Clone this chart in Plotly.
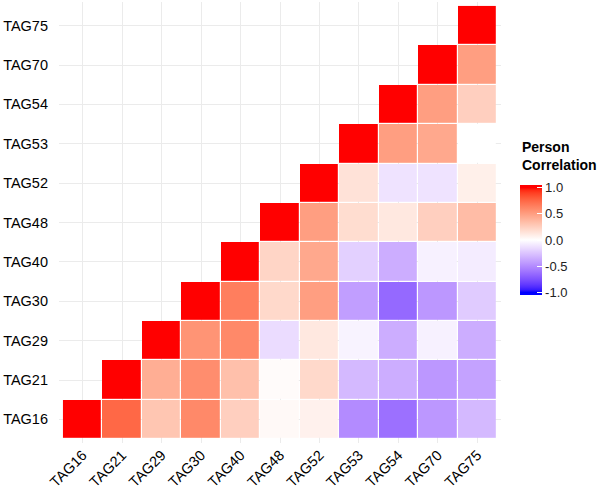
import plotly.graph_objects as go

tags = ["TAG16", "TAG21", "TAG29", "TAG30", "TAG40", "TAG48", "TAG52", "TAG53", "TAG54", "TAG70", "TAG75"]

# each row: correlation of the row tag with column tags (None = hidden lower triangle)
row_TAG16 = [1.0, 0.75, 0.30, 0.60, 0.25, 0.03, 0.07, -0.50, -0.62, -0.45, -0.30]
row_TAG21 = [None, 1.0, 0.42, 0.58, 0.33, 0.02, 0.20, -0.30, -0.35, -0.45, -0.40]
row_TAG29 = [None, None, 1.0, 0.55, 0.60, -0.15, 0.12, -0.05, -0.35, -0.06, -0.35]
row_TAG30 = [None, None, None, 1.0, 0.65, 0.20, 0.50, -0.42, -0.65, -0.45, -0.22]
row_TAG40 = [None, None, None, None, 1.0, 0.22, 0.45, -0.20, -0.35, -0.06, -0.08]
row_TAG48 = [None, None, None, None, None, 1.0, 0.50, 0.18, 0.12, 0.25, 0.35]
row_TAG52 = [None, None, None, None, None, None, 1.0, 0.15, -0.12, -0.12, 0.08]
row_TAG53 = [None, None, None, None, None, None, None, 1.0, 0.50, 0.45, 0.0]
row_TAG54 = [None, None, None, None, None, None, None, None, 1.0, 0.50, 0.25]
row_TAG70 = [None, None, None, None, None, None, None, None, None, 1.0, 0.50]
row_TAG75 = [None, None, None, None, None, None, None, None, None, None, 1.0]

z = [row_TAG16, row_TAG21, row_TAG29, row_TAG30, row_TAG40, row_TAG48,
     row_TAG52, row_TAG53, row_TAG54, row_TAG70, row_TAG75]

legend_ticks = [-1.0, -0.5, 0.0, 0.5, 1.0]
legend_title = "Person<br>Correlation"

ZMIN, ZMAX = -1.05, 1.05  # bar extends slightly past the -1..1 ticks


# --- diverging colour scale interpolated in CIE Lab (like ggplot's gradient2)
def lab_to_rgb(L, a, b):
    fy = (L + 16) / 116
    fx = fy + a / 500
    fz = fy - b / 200

    def finv(t):
        return t ** 3 if t ** 3 > 0.008856 else (t - 16 / 116) / 7.787

    X = 0.95047 * finv(fx)
    Y = 1.0 * finv(fy)
    Z = 1.08883 * finv(fz)
    r = 3.2406 * X - 1.5372 * Y - 0.4986 * Z
    g = -0.9689 * X + 1.8758 * Y + 0.0415 * Z
    bb = 0.0557 * X - 0.2040 * Y + 1.0570 * Z

    def gam(c):
        c = max(0.0, min(1.0, c))
        return 1.055 * c ** (1 / 2.4) - 0.055 if c > 0.0031308 else 12.92 * c

    return "rgb(%d,%d,%d)" % tuple(round(255 * gam(c)) for c in (r, g, bb))


white = (100.0, 0.0, 0.0)
red = (53.24, 80.09, 67.20)
blue = (32.30, 79.19, -107.86)
colorscale = []
n = 42
for i in range(n + 1):
    t = i / n
    v = ZMIN + (ZMAX - ZMIN) * t
    v = max(-1.0, min(1.0, v))
    if v < 0:
        s = -v
        lab = tuple(white[k] + (blue[k] - white[k]) * s for k in range(3))
    else:
        s = v
        lab = tuple(white[k] + (red[k] - white[k]) * s for k in range(3))
    colorscale.append([t, lab_to_rgb(*lab)])

FONT = "Liberation Sans, Arial, sans-serif"

fig = go.Figure(
    go.Heatmap(
        z=z, x=tags, y=tags,
        zmin=ZMIN, zmax=ZMAX,
        colorscale=colorscale,
        xgap=1.2, ygap=1.2,
        hoverongaps=False,
        colorbar=dict(
            tickvals=legend_ticks,
            ticktext=["%.1f" % v for v in legend_ticks],
            ticks="inside", ticklen=5, tickcolor="white", tickwidth=1,
            tickfont=dict(size=13, color="#222222", family=FONT),
            thickness=22, lenmode="pixels", len=110,
            xanchor="left", x=(520 - 59) / 442, xpad=0,
            yanchor="middle", y=(443 - 240) / 441, ypad=0,
            outlinewidth=0,
        ),
    )
)

fig.add_annotation(
    text="<b>" + legend_title + "</b>", xref="paper", yref="paper",
    x=(520 - 59) / 442, y=(443 - 137) / 441, xanchor="left", yanchor="top",
    align="left", showarrow=False,
    font=dict(size=14, color="#000000", family=FONT),
)

fig.update_layout(
    width=598, height=493,
    margin=dict(l=59, r=97, t=2, b=50),
    paper_bgcolor="white", plot_bgcolor="white",
    font=dict(family=FONT, size=14, color="#000000"),
    xaxis=dict(type="category", range=[-0.6, 10.6], showgrid=True, gridcolor="#EBEBEB",
               gridwidth=1, zeroline=False, tickangle=-45, ticks="", automargin=False,
               tickfont=dict(size=14.5, color="#000000"), fixedrange=True),
    yaxis=dict(type="category", range=[-0.6, 10.6], showgrid=True, gridcolor="#EBEBEB",
               gridwidth=1, zeroline=False, ticks="", automargin=False,
               ticklabelstandoff=10,
               tickfont=dict(size=14.5, color="#000000"), fixedrange=True),
)

fig.write_html("out.html", config={"displayModeBar": False},
               post_script="document.body.style.margin='0';")
